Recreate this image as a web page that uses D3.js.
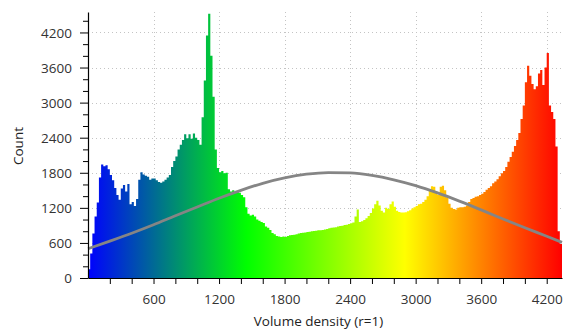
<!DOCTYPE html>
<html>
<head>
<meta charset="utf-8">
<script src="https://cdn.jsdelivr.net/npm/d3@7"></script>
<style>
  html, body { margin: 0; padding: 0; background: #fff; }
  svg { display: block; font-family: "Open Sans", sans-serif; }
</style>
</head>
<body>
<svg id="chart" width="563" height="330"></svg>
<script>
// Histogram of volume density: bins of 20 units starting at 0
const binWidth = 20;
const counts = [
  150, 420, 760, 1050, 1290, 1720, 1940, 1910, 1930, 1860,
  1760, 1670, 1540, 1420, 1340, 1530, 1590, 1480, 1610, 1260,
  1300, 1230, 1350, 1680, 1810, 1770, 1750, 1730, 1680, 1700,
  1700, 1670, 1640, 1630, 1650, 1680, 1720, 1760, 1900, 2000,
  2080, 2200, 2280, 2360, 2460, 2390, 2460, 2380, 2470, 2400,
  2360, 2280, 2750, 3380, 4150, 4520, 3800, 3100, 2200, 1880,
  1810, 1830, 1790, 1800, 1520, 1480, 1500, 1470, 1490, 1460,
  1420, 1380, 1210, 1100, 1070, 1080, 1050, 1000, 980, 960,
  940, 880, 860, 820, 770, 750, 720, 710, 700, 710,
  700, 720, 730, 735, 740, 750, 760, 770, 775, 780,
  785, 790, 800, 805, 810, 815, 815, 820, 830, 840,
  850, 860, 865, 870, 880, 890, 895, 905, 910, 925,
  935, 950, 1050, 1170, 960, 970, 990, 1020, 1060, 1110,
  1190, 1260, 1320, 1240, 1150, 1120, 1200, 1180, 1260, 1310,
  1220, 1150, 1130, 1120, 1120, 1125, 1140, 1160, 1190, 1210,
  1230, 1260, 1270, 1300, 1340, 1400, 1500, 1570, 1560, 1480,
  1420, 1560, 1580, 1500, 1380, 1270, 1200, 1180, 1170, 1200,
  1210, 1210, 1220, 1240, 1300, 1350, 1370, 1390, 1400, 1420,
  1440, 1470, 1510, 1540, 1570, 1620, 1650, 1690, 1740, 1790,
  1830, 1900, 1990, 2070, 2160, 2260, 2360, 2480, 2720, 2950,
  3350, 3630, 3460, 3320, 3230, 3280, 3500, 3560, 3300, 3600,
  3850, 2950, 2840, 2720, 2250, 800, 580
];

// Fitted distribution curve (gray)
const fitX = [0, 200, 400, 600, 800, 1000, 1200, 1400, 1600, 1800, 2000, 2200,
              2400, 2600, 2800, 3000, 3200, 3400, 3600, 3800, 4000, 4200, 4340];
const fitY = [500, 630, 765, 910, 1065, 1215, 1365, 1500, 1620, 1712, 1775, 1803,
              1797, 1755, 1680, 1580, 1455, 1315, 1165, 1010, 860, 715, 610];

// Axis settings
const xDomain = [0, 4340];
const yDomain = [0, 4550];
const xMajorTicks = [600, 1200, 1800, 2400, 3000, 3600, 4200];
const yMajorTicks = [0, 600, 1200, 1800, 2400, 3000, 3600, 4200];
const minorStep = 200;

// Colour ramp along the density axis
const rampStops = [0, 1450, 2900, 4340];
const rampColors = ["#0000ff", "#00ff00", "#ffff00", "#ff0000"];

const xLabel = "Volume density (r=1)";
const yLabel = "Count";

const svg = d3.select("#chart");
const x = d3.scaleLinear().domain(xDomain).range([88, 562]);
const y = d3.scaleLinear().domain(yDomain).range([278, 12]);

// gradient fill
const defs = svg.append("defs");
const grad = defs.append("linearGradient")
  .attr("id", "ramp")
  .attr("gradientUnits", "userSpaceOnUse")
  .attr("x1", x(xDomain[0])).attr("x2", x(xDomain[1]))
  .attr("y1", 0).attr("y2", 0);
rampStops.forEach((s, i) => {
  grad.append("stop")
    .attr("offset", (s - xDomain[0]) / (xDomain[1] - xDomain[0]))
    .attr("stop-color", rampColors[i]);
});

// dotted grid
const grid = svg.append("g").attr("stroke", "#c4c4c4").attr("stroke-width", 1)
  .attr("stroke-dasharray", "1,3");
grid.selectAll("line.v").data(xMajorTicks).join("line")
  .attr("x1", d => Math.round(x(d)) + 0.5).attr("x2", d => Math.round(x(d)) + 0.5)
  .attr("y1", y.range()[1]).attr("y2", y.range()[0]);
grid.selectAll("line.h").data(yMajorTicks.filter(d => d > 0)).join("line")
  .attr("y1", d => Math.round(y(d)) + 0.5).attr("y2", d => Math.round(y(d)) + 0.5)
  .attr("x1", x.range()[0]).attr("x2", x.range()[1]);

// histogram as a stepped area
const pts = counts.map((c, i) => [i * binWidth, c]);
pts.push([counts.length * binWidth, counts[counts.length - 1]]);
const area = d3.area()
  .x(d => x(d[0]))
  .y0(y(0))
  .y1(d => y(d[1]))
  .curve(d3.curveStepAfter);
svg.append("path")
  .datum(pts)
  .attr("fill", "url(#ramp)")
  .attr("d", area);

// fitted curve
const line = d3.line()
  .x((d, i) => x(fitX[i]))
  .y(d => y(d))
  .curve(d3.curveMonotoneX);
svg.append("path")
  .datum(fitY)
  .attr("fill", "none")
  .attr("stroke", "#858585")
  .attr("stroke-width", 2.8)
  .attr("d", line);

// axes
const isMajorX = d => xMajorTicks.includes(d);
const isMajorY = d => yMajorTicks.includes(d);

const xAxis = d3.axisBottom(x)
  .tickValues(d3.range(minorStep, xDomain[1], minorStep))
  .tickSize(6).tickSizeOuter(0)
  .tickFormat(d => isMajorX(d) ? d : "");
const gx = svg.append("g").attr("transform", `translate(0,${y(0)})`).call(xAxis);

const yAxis = d3.axisLeft(y)
  .tickValues(d3.range(0, yDomain[1], minorStep))
  .tickSize(5).tickSizeOuter(0)
  .tickFormat(d => isMajorY(d) ? d : "");
const gy = svg.append("g").attr("transform", `translate(${x(0)},0)`).call(yAxis);

[gx, gy].forEach(g => {
  g.select(".domain").attr("stroke", "#000").attr("stroke-width", 1.2);
  g.selectAll(".tick line").attr("stroke", "#000");
  g.selectAll(".tick text")
    .attr("fill", "#333")
    .style("font-family", "'Open Sans', sans-serif")
    .style("font-size", "13.5px");
});
gy.selectAll(".tick line").attr("x2", d => isMajorY(d) ? -8 : -5);
gy.selectAll(".tick text").attr("x", -16).attr("dy", "0.36em");
gx.selectAll(".tick text").attr("y", 26).attr("dy", 0);

// axis titles
svg.append("text")
  .attr("x", 318.5).attr("y", 325.5)
  .attr("text-anchor", "middle")
  .attr("fill", "#222")
  .style("font-size", "13.5px")
  .text(xLabel);
svg.append("text")
  .attr("transform", "translate(23,146) rotate(-90)")
  .attr("text-anchor", "middle")
  .attr("fill", "#222")
  .style("font-size", "13.5px")
  .text(yLabel);
</script>
</body>
</html>
